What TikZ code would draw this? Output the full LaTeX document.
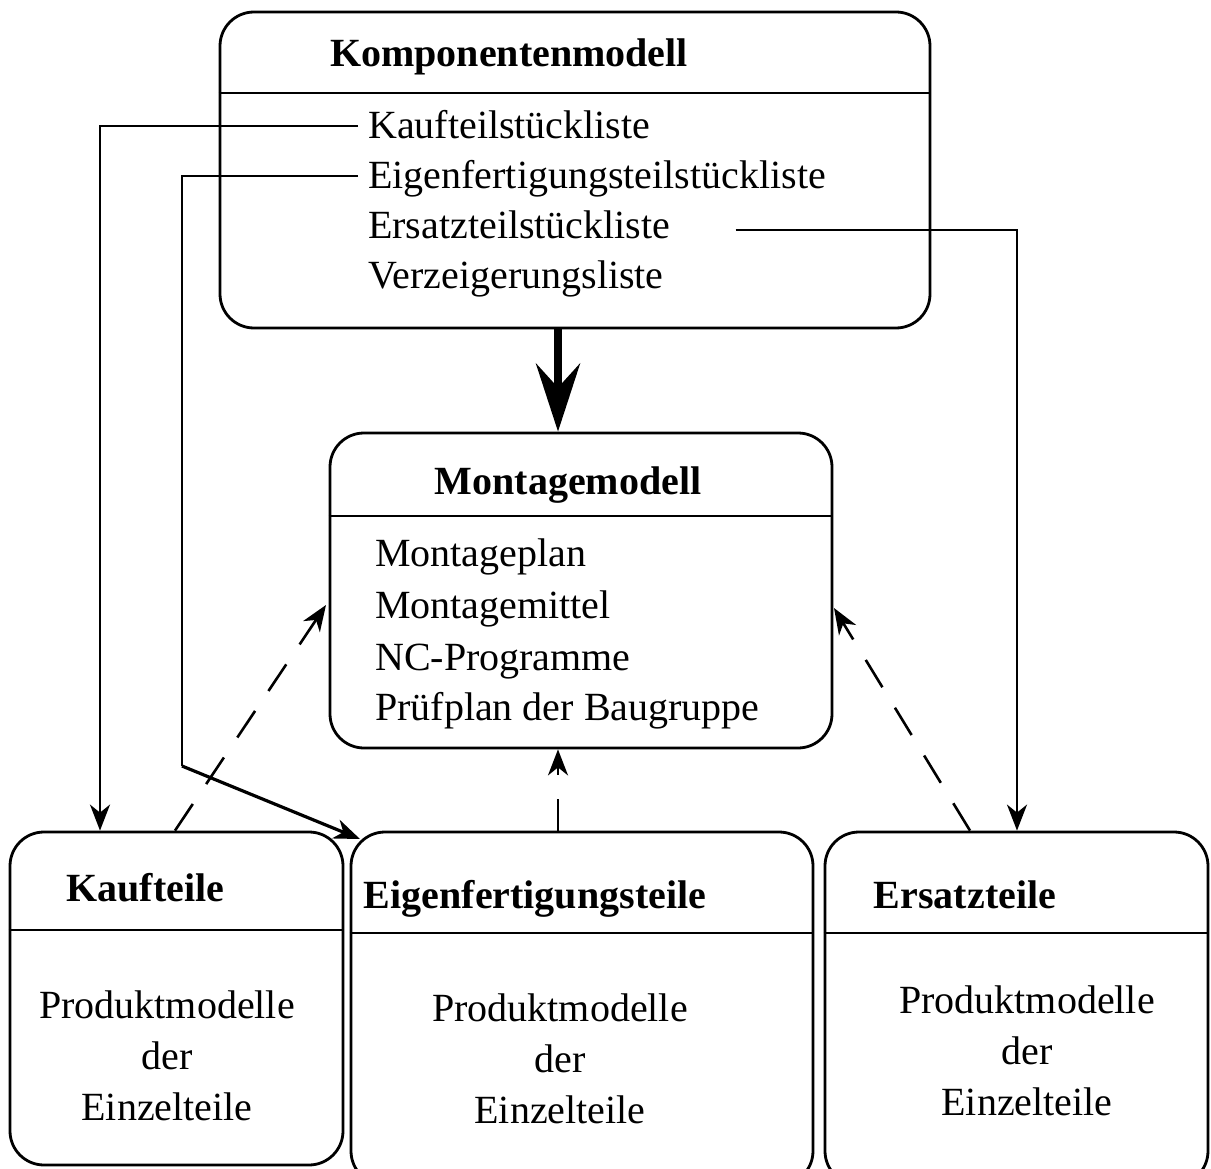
\documentclass[tikz,border=0pt]{standalone}
\usepackage{fontspec}
\setmainfont{Liberation Serif}
\usetikzlibrary{arrows.meta}
\begin{document}
\begin{tikzpicture}[x=1pt,y=-1pt,
  box/.style={draw,line width=2.8pt,rounded corners=34pt,inner sep=0pt},
  hline/.style={line width=2.8pt},
  txt/.style={inner sep=0pt,font=\fontsize{40}{51}\selectfont},
  ttl/.style={inner sep=0pt,font=\fontsize{40}{51}\selectfont\bfseries},
  body/.style={inner sep=0pt,align=center,font=\fontsize{40}{51}\selectfont},
  conn/.style={line width=2.6pt,-{Stealth[length=26pt,width=20pt,inset=8pt]}},
  dconn/.style={conn,dash pattern=on 32pt off 24pt},
  thick arrow/.style={line width=8pt,-{Stealth[length=68pt,width=44pt,inset=24pt]}}]
\clip (0,0) rectangle (1211,1169);
\useasboundingbox (0,0) rectangle (1211,1169);

% boxes
\node[box,minimum width=710pt,minimum height=316pt] (komp) at (575,170) {};
\node[box,minimum width=502pt,minimum height=315pt] (mont) at (581,590.5) {};
\node[box,minimum width=333pt,minimum height=333pt] (kauf) at (176.5,998.5) {};
\node[box,minimum width=462pt,minimum height=353pt] (eigen) at (582,1008.5) {};
\node[box,minimum width=383pt,minimum height=353pt] (ersatz) at (1016.5,1008.5) {};

% header lines
\draw[hline] (komp.west |- 0,93) -- (komp.east |- 0,93);
\draw[hline] (mont.west |- 0,516) -- (mont.east |- 0,516);
\draw[hline] (kauf.west |- 0,930) -- (kauf.east |- 0,930);
\draw[hline] (eigen.west |- 0,933) -- (eigen.east |- 0,933);
\draw[hline] (ersatz.west |- 0,933) -- (ersatz.east |- 0,933);

% titles
\node[ttl,anchor=base] (kompT) at (509,67) {Komponentenmodell};
\node[ttl,anchor=base] (montT) at (568,494) {Montagemodell};
\node[ttl,anchor=base] (kaufT) at (145.5,901) {Kaufteile};
\node[ttl,anchor=base] (eigenT) at (535,908) {Eigenfertigungsteile};
\node[ttl,anchor=base] (ersatzT) at (965,908) {Ersatzteile};

% component list
\node[txt,anchor=base west] (k1) at (368,139) {Kaufteilstückliste};
\node[txt,anchor=base west] (k2) at (368,189) {Eigenfertigungsteilstückliste};
\node[txt,anchor=base west] (k3) at (368,239) {Ersatzteilstückliste};
\node[txt,anchor=base west] (k4) at (368,289) {Verzeigerungsliste};

% montage list
\node[txt,anchor=base west] (m1) at (375,566) {Montageplan};
\node[txt,anchor=base west] (m2) at (375,618) {Montagemittel};
\node[txt,anchor=base west] (m3) at (375,670) {NC-Programme};
\node[txt,anchor=base west] (m4) at (375,720) {Prüfplan der Baugruppe};

% bodies
\node[body] (kaufB) at (167,1056) {Produktmodelle\\der\\Einzelteile};
\node[body] (eigenB) at (560,1059) {Produktmodelle\\der\\Einzelteile};
\node[body] (ersatzB) at (1027,1051) {Produktmodelle\\der\\Einzelteile};

% connector helper points
\coordinate (k1s) at ([shift={(-10,-13)}]k1.base west);
\coordinate (k2s) at ([shift={(-10,-13)}]k2.base west);
\coordinate (k3s) at ([shift={(65,-9)}]k3.base east);
\coordinate (bend) at (182,766);
\coordinate (eigenTip) at (360,839);

% connectors
\draw[thick arrow] (komp.south -| 558,0) -- (mont.north -| 558,0);
\draw[conn] (k1s) -| (kauf.north -| 100,0);
\draw[line width=2.6pt] (k2s) -| (bend);
\draw[conn,line width=3.2pt] (bend) -- (eigenTip);
\draw[conn] (k3s) -| (ersatz.north -| 1017,0);

% dashed
\draw[dconn] (kauf.north -| 175,0) -- (326,605);
\draw[dconn] (ersatz.north -| 970,0) -- (834,608);
\draw[dconn] (eigen.north -| 558,0) -- (mont.south -| 558,0);
\end{tikzpicture}
\end{document}
